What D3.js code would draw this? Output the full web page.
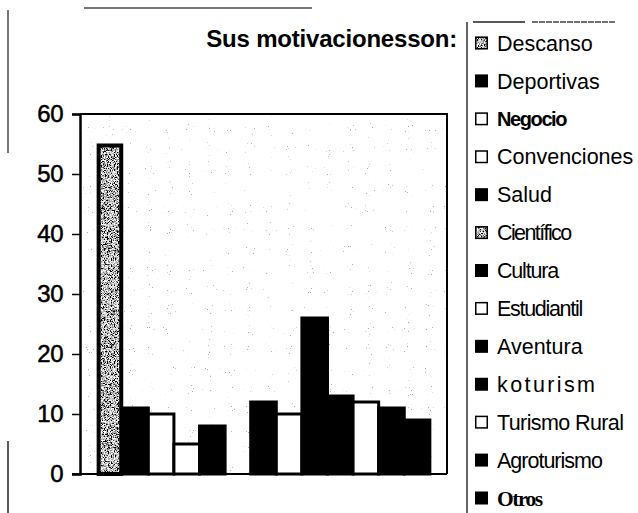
<!DOCTYPE html>
<html>
<head>
<meta charset="utf-8">
<script src="https://cdn.jsdelivr.net/npm/d3@7"></script>
<style>
  html, body { margin: 0; padding: 0; background: #fff; }
  svg { display: block; }
</style>
</head>
<body>
<svg id="chart" width="638" height="513"></svg>
<script>
// Motivation categories, share of respondents (%)
const categories = ["Descanso", "Deportivas", "Negocio", "Convenciones", "Salud", "Científico",
  "Cultura", "Estudiantil", "Aventura", "koturism", "Turismo Rural", "Agroturismo", "Otros"];
const values = [55, 11, 10, 5, 8, 0, 12, 10, 26, 13, 12, 11, 9];
const fillKinds = ["speckle", "black", "white", "white", "black", "speckle",
  "black", "white", "black", "black", "white", "black", "black"];
const yTicks = [0, 10, 20, 30, 40, 50, 60];
const titleText = "Sus motivacionesson:";

// per-label font tweaks in the legend
const legendStyles = {
  "Negocio": { weight: "bold", spacing: -1.4, size: 20 },
  "Científico": { spacing: -1.6 },
  "Cultura": { spacing: -1.2 },
  "Estudiantil": { spacing: -1.3 },
  "koturism": { spacing: 2.4 },
  "Turismo Rural": { spacing: -0.6 },
  "Agroturismo": { spacing: -1.0 },
  "Otros": { family: "'Liberation Serif', 'Times New Roman', serif", weight: "bold", spacing: -1.5 }
};

const sans = "Arial, 'Liberation Sans', sans-serif";
const svg = d3.select("#chart");
const margin = { left: 80, right: 447, top: 114, bottom: 474 };

const defs = svg.append("defs");

// sparse grey specks over the plot background
const bgF = defs.append("filter").attr("id", "bgSpeck")
  .attr("x", 0).attr("y", 0).attr("width", 1).attr("height", 1);
bgF.append("feTurbulence").attr("type", "fractalNoise").attr("baseFrequency", 0.95)
  .attr("numOctaves", 1).attr("seed", 7).attr("result", "n");
bgF.append("feColorMatrix").attr("in", "n").attr("type", "matrix")
  .attr("values", "0 0 0 0 0.4  0 0 0 0 0.4  0 0 0 0 0.4  22 0 0 0 -15.9");

// dense black/white stipple for grey bars
const spF = defs.append("filter").attr("id", "stipple")
  .attr("x", 0).attr("y", 0).attr("width", 1).attr("height", 1);
spF.append("feTurbulence").attr("type", "fractalNoise").attr("baseFrequency", 1.3)
  .attr("numOctaves", 1).attr("seed", 3).attr("result", "n");
spF.append("feColorMatrix").attr("in", "n").attr("type", "matrix")
  .attr("values", "4 0 0 0 -1.5  4 0 0 0 -1.5  4 0 0 0 -1.5  0 0 0 0 1").attr("result", "g");
spF.append("feComposite").attr("in", "g").attr("in2", "SourceAlpha").attr("operator", "in");

// scales
const x = d3.scaleBand().domain(categories)
  .range([margin.left, margin.right]).paddingInner(0).paddingOuter(0.67);
const y = d3.scaleLinear().domain([0, 60]).range([margin.bottom, margin.top]);

// page decoration lines
svg.append("line").attr("x1", 84).attr("x2", 312).attr("y1", 8).attr("y2", 8)
  .attr("stroke", "#777").attr("stroke-width", 2);
svg.append("line").attr("x1", 8).attr("x2", 8).attr("y1", 10).attr("y2", 153)
  .attr("stroke", "#777").attr("stroke-width", 2);
svg.append("line").attr("x1", 8).attr("x2", 8).attr("y1", 441).attr("y2", 513)
  .attr("stroke", "#222").attr("stroke-width", 1.5);

// plot background
svg.append("rect").attr("x", margin.left).attr("y", margin.top)
  .attr("width", margin.right - margin.left).attr("height", margin.bottom - margin.top)
  .attr("fill", "#fff");
svg.append("rect").attr("x", margin.left).attr("y", margin.top)
  .attr("width", margin.right - margin.left).attr("height", margin.bottom - margin.top)
  .attr("fill", "#fff").attr("filter", "url(#bgSpeck)");

// bars
const bars = svg.append("g");
categories.forEach((c, i) => {
  const v = values[i];
  if (v <= 0) return;
  const bx = x(c), bw = x.bandwidth(), by = y(v), bh = y(0) - y(v);
  const kind = fillKinds[i];
  if (kind === "speckle") {
    bars.append("rect").attr("x", bx).attr("y", by).attr("width", bw).attr("height", bh)
      .attr("fill", "#888").attr("filter", "url(#stipple)");
    bars.append("rect").attr("x", bx + 1.5).attr("y", by + 1.5).attr("width", bw - 3).attr("height", bh - 1.5)
      .attr("fill", "none").attr("stroke", "#000").attr("stroke-width", 4);
  } else {
    bars.append("rect").attr("x", bx).attr("y", by).attr("width", bw).attr("height", bh)
      .attr("fill", kind === "black" ? "#000" : "#fff")
      .attr("stroke", "#000").attr("stroke-width", 3);
  }
});

// plot frame
svg.append("path")
  .attr("d", `M${margin.left},${margin.top}H${margin.right}V${margin.bottom}`)
  .attr("fill", "none").attr("stroke", "#000").attr("stroke-width", 2);

// y axis
const yAxis = d3.axisLeft(y).tickValues(yTicks).tickSize(8).tickPadding(9);
const gy = svg.append("g").attr("transform", `translate(${margin.left},0)`).call(yAxis);
gy.select(".domain").attr("stroke-width", 2.5);
gy.selectAll(".tick line").attr("stroke-width", 1.5);
gy.selectAll("text").attr("font-family", sans)
  .attr("font-size", 24).attr("fill", "#000")
  .attr("stroke", "#000").attr("stroke-width", 0.5).attr("letter-spacing", -0.5);

// baseline
svg.append("line").attr("x1", 72).attr("x2", margin.right).attr("y1", y(0)).attr("y2", y(0))
  .attr("stroke", "#000").attr("stroke-width", 2);

// title
svg.append("text").attr("x", 457).attr("y", 47).attr("text-anchor", "end")
  .attr("font-family", sans).attr("font-weight", "bold")
  .attr("font-size", 24).attr("letter-spacing", -0.2).text(titleText);

// legend
const legendX = 467;
svg.append("line").attr("x1", legendX).attr("x2", legendX).attr("y1", 22).attr("y2", 513)
  .attr("stroke", "#333").attr("stroke-width", 1.5);
svg.append("line").attr("x1", 473).attr("x2", 525).attr("y1", 22).attr("y2", 22)
  .attr("stroke", "#222").attr("stroke-width", 1.5);
svg.append("line").attr("x1", 532).attr("x2", 615).attr("y1", 22).attr("y2", 22)
  .attr("stroke", "#444").attr("stroke-width", 1.5).attr("stroke-dasharray", "6 1");

const legendY = d3.scalePoint().domain(categories).range([43, 498]);
const lg = svg.append("g");
categories.forEach((c, i) => {
  const cy = legendY(c);
  const kind = fillKinds[i];
  if (kind === "speckle") {
    lg.append("rect").attr("x", 475).attr("y", cy - 6.5).attr("width", 13).attr("height", 13)
      .attr("fill", "#888").attr("filter", "url(#stipple)");
    lg.append("rect").attr("x", 475.75).attr("y", cy - 5.75).attr("width", 11.5).attr("height", 11.5)
      .attr("fill", "none").attr("stroke", "#000").attr("stroke-width", 1.5);
  } else {
    lg.append("rect").attr("x", 475.75).attr("y", cy - 5.75).attr("width", 11.5).attr("height", 11.5)
      .attr("fill", kind === "black" ? "#000" : "#fff")
      .attr("stroke", "#000").attr("stroke-width", 1.5);
  }
  const st = legendStyles[c] || {};
  lg.append("text").attr("x", 497).attr("y", cy).attr("dy", "0.36em")
    .attr("font-family", st.family || sans)
    .attr("font-weight", st.weight || "normal")
    .attr("font-size", st.size || 21.5)
    .attr("letter-spacing", st.spacing || 0)
    .attr("fill", "#000")
    .text(c);
});
</script>
</body>
</html>
